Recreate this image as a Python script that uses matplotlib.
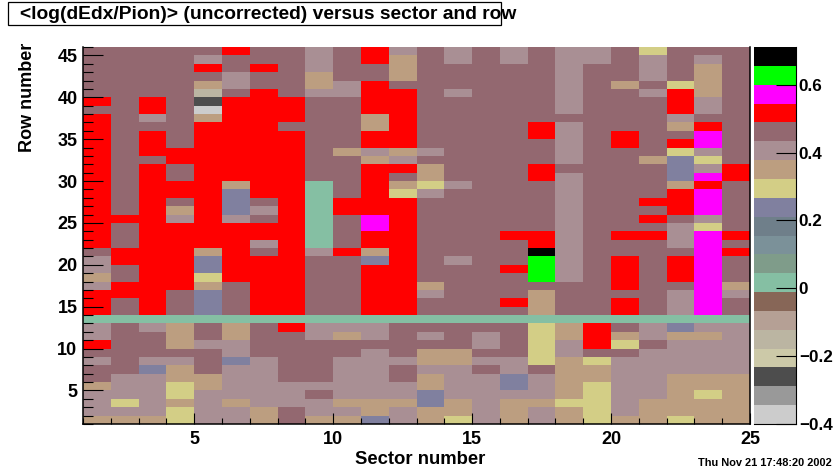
import numpy as np
import matplotlib
matplotlib.use('Agg')
import matplotlib.pyplot as plt
from matplotlib.colors import ListedColormap, BoundaryNorm
from matplotlib.patches import Rectangle
from matplotlib.ticker import MultipleLocator

plt.rcParams['font.family'] = ['Liberation Sans', 'DejaVu Sans']
plt.rcParams['font.weight'] = 'bold'

W, H = 834, 472

# one letter per sector (1-24), top row is row 45
rows = [
    "MMMMMRMMLMRLMLMLMLLMYMMM",
    "MMMMLMMMLMRTMLMLMLLMLMLM",
    "MMMMRMRMLMMTMMMMMLMMLMTM",
    "MMMMMLMMTMMTMMMMMLMMLMTM",
    "MMMMTLMMTLRMMMMMMLMTMYTM",
    "MMMMSMRMLLRRMLMMMLMMLRTM",
    "RMRMDRRRMMRRMMMMMLMMMRLM",
    "MMRMWRRRMMRRMMMMMLMMMRLM",
    "RMLMTRRRMMTRMMMMMMMMMLMM",
    "RMMMRRRMMMTRMMMMRLMMMTRM",
    "RMRMRRRRMMRRMMMMRLMRMMPM",
    "RMRMRRRRMMRRMMMMMLMRMRPM",
    "RMRRRRRRMTLTLMMMMLMMMYLM",
    "RMMRRRRRMMTLMMMMMLMMTBYM",
    "RMRMRRRRMMRRTMMMRMMMMBLR",
    "RMRMRRRRMMRMTMMMRLMMMBPR",
    "RMRRRTRRGMRTYLMMMLMMMTRM",
    "RMRRRBRRGMRYLMMMMLMMMRPM",
    "RMRMRBMRGRRRMMMMMLMMRRPM",
    "RMRTRBLRGRRRMMMMMLMMMRPM",
    "RRRLRLMRGMPRMMMMMLMMRMLM",
    "RMRRRRRRGMPRMMMMMLMMMLYM",
    "RMRRRRRRGMRRMMMRRLMRRLPR",
    "RMRRRRLRGMRRMMMMRLMMMLPM",
    "MRRRTRMRLRTRMMMMKLMMMMPR",
    "LRRRBRRRMMBRMLMMNLMRMRPM",
    "LMRRBRRRMMRRMMMRNLMRMRPM",
    "TMRRYRRRMMRRMMMMNLMRMRPM",
    "LRRRTMRRMMRRTMMMMMMRMMPT",
    "RRRMBMRRMMRRLMMMTMMMMLPL",
    "RMRMBMRRMMRRMMMRTMMRMLPM",
    "RMRMBMRRMMRRMMMMTMMRMLPM",
    "GGGGGGGGGGGGGGGGGGGGGGGG",
    "LMLTMTMRLLLMMMMMYTRMLBLL",
    "LMMTMTMMLTLMLMLMYTRTLTTL",
    "RMMTLLMMMMMMMMLMYLRYMLLL",
    "MMMMMLMMMMLMTTMMYLMMLLLL",
    "LMLLMBLMMLLLTTLLYTYLLLLL",
    "MMBTMLLMMLLMLLMLMTTLLLLL",
    "MLLTTLLMMLLMTLLBLTTLLTTT",
    "TLLYTLLLLLLLTLLBLTYLLTTT",
    "LLLYLLLLMLLLBLLLLTYLLTYT",
    "LYLTLTLLLTTTBTLTTYYLTTTT",
    "LLLYLLTMLLTLTTLTLTYLTTTT",
    "TTTYLLTMTTBLTYLTLTYTTYTT",
]

# colour levels of the palette, bottom of the colour bar first
level_colors = [
    '#CCCCCC', '#999999', '#4D4D4D', '#CCC9A8', '#BBB5A2',
    '#B5A095', '#876657', '#85BFA3', '#7F9C8A', '#7B9199',
    '#6F7F8A', '#80809F', '#D3CE86', '#BC9E80', '#A98F94',
    '#936870', '#FF0000', '#FF00FF', '#00FF00', '#000000',
]
letter_values = {
    'W': -0.372, 'D': -0.261, 'S': -0.15, 'G': 0.016, 'B': 0.239, 'Y': 0.294,
    'T': 0.35, 'L': 0.405, 'M': 0.46, 'R': 0.516, 'P': 0.572, 'N': 0.627, 'K': 0.683,
}
z_min, z_max = -0.4, 0.711
z_ticks = [-0.4, -0.2, 0, 0.2, 0.4, 0.6]
z_tick_labels = ['\u22120.4', '\u22120.2', '0', '0.2', '0.4', '0.6']

title = '<log(dEdx/Pion)> (uncorrected) versus sector and row'
xlabel = 'Sector number'
ylabel = 'Row number'
stamp = 'Thu Nov 21 17:48:20 2002'

values = np.array([[letter_values[c] for c in r] for r in rows[::-1]])
edges = np.linspace(z_min, z_max, len(level_colors) + 1)
cmap = ListedColormap(level_colors)
norm = BoundaryNorm(edges, cmap.N)


def px_axes(x0, y0, x1, y1):
    return fig.add_axes([x0 / W, 1 - y1 / H, (x1 - x0) / W, (y1 - y0) / H])


fig = plt.figure(figsize=(W / 100, H / 100), dpi=100, facecolor='white')

ax = px_axes(83, 47, 750, 424)
ax.pcolormesh(np.arange(1, 26), np.arange(1, 47), values, cmap=cmap, norm=norm,
              antialiased=False, linewidth=0)
ax.set_xlim(1, 25)
ax.set_ylim(1, 46)
ax.spines['top'].set_visible(False)
for s in ['left', 'bottom', 'right']:
    ax.spines[s].set_linewidth(1.1)
ax.xaxis.set_major_locator(MultipleLocator(5))
ax.xaxis.set_minor_locator(MultipleLocator(1))
ax.yaxis.set_major_locator(MultipleLocator(5))
ax.yaxis.set_minor_locator(MultipleLocator(1))
ax.tick_params(axis='x', which='major', direction='in', length=8, width=0.8, pad=5, labelsize=13)
ax.tick_params(axis='x', which='minor', direction='in', length=4, width=0.8)
ax.tick_params(axis='y', which='major', direction='in', length=14.4, width=0.8, pad=4, labelsize=13)
ax.tick_params(axis='y', which='minor', direction='in', length=7.2, width=0.8)

fig.text(485 / W, 1 - 460 / H, xlabel, ha='right', va='center', fontsize=13.3)
fig.text(28 / W, 1 - 43 / H, ylabel, ha='center', va='top', rotation=90, fontsize=13)

# colour bar, same levels as the map
cax = px_axes(754, 47, 796, 424)
cax.pcolormesh([0, 1], edges, np.array(edges[:-1] + np.diff(edges) / 2).reshape(-1, 1),
               cmap=cmap, norm=norm, antialiased=False, linewidth=0)
cax.set_xlim(0, 1)
cax.set_ylim(z_min, z_max)
cax.spines['top'].set_visible(False)
cax.spines['left'].set_visible(False)
cax.set_xticks([])
cax.yaxis.tick_right()
cax.set_yticks(z_ticks)
cax.set_yticklabels(z_tick_labels)
cax.tick_params(axis='y', direction='in', length=14.4, width=0.8, pad=2, labelsize=12.3)

# title box
fig.add_artist(Rectangle((8 / W, 1 - 25 / H), 493 / W, 23 / H, transform=fig.transFigure,
                         facecolor='white', edgecolor='black', linewidth=0.9))
fig.text(20 / W, 1 - 14.5 / H, title, ha='left', va='center', fontsize=13.9)
fig.text(832 / W, 1 - 463 / H, stamp, ha='right', va='center', fontsize=7.9)

fig.savefig('out.png', dpi=100)
